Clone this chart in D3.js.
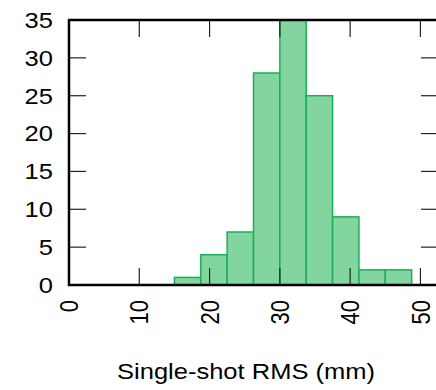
<!DOCTYPE html>
<html>
<head>
<meta charset="utf-8">
<script src="https://cdn.jsdelivr.net/npm/d3@7"></script>
<style>
  html, body { margin: 0; padding: 0; background: #fff; }
  svg { display: block; font-family: "Liberation Sans", Arial, sans-serif; }
</style>
</head>
<body>
<div id="chart"></div>
<script>
// histogram bins (lower edges, mm) and counts
const binEdges = [15, 18.75, 22.5, 26.25, 30, 33.75, 37.5, 41.25, 45];
const binWidth = 3.75;
const counts = [1, 4, 7, 28, 35, 25, 9, 2, 2];
const xTicks = [0, 10, 20, 30, 40, 50];
const yTicks = [0, 5, 10, 15, 20, 25, 30, 35];
const xLabel = 'Single-shot RMS (mm)';

const width = 436;
const height = 390;
const plot = { left: 69, top: 20, right: 438, bottom: 285 };
const fontSize = 22;
const stretch = 1.16; // text in the reference is a bit wider than plain Arial

const svg = d3.select('#chart').append('svg')
  .attr('width', width)
  .attr('height', height);

const x = d3.scaleLinear().domain([0, 52.5]).range([plot.left, plot.right]);
const y = d3.scaleLinear().domain([0, 35]).range([plot.bottom, plot.top]);

const bins = binEdges.map((edge, i) => ({ x0: edge, x1: edge + binWidth, count: counts[i] }));

// bars
svg.append('g')
  .selectAll('rect')
  .data(bins)
  .join('rect')
  .attr('x', (d) => x(d.x0))
  .attr('y', (d) => y(d.count))
  .attr('width', (d) => x(d.x1) - x(d.x0))
  .attr('height', (d) => y(0) - y(d.count))
  .attr('fill', '#83d5a0')
  .attr('stroke', '#1aaf55')
  .attr('stroke-width', 1.5);

const tickLen = 17;
const ticks = svg.append('g').attr('stroke', '#222').attr('stroke-width', 1.2);

// x ticks, bottom and mirrored at top
ticks.selectAll('line.xb')
  .data(xTicks.slice(1))
  .join('line')
  .attr('class', 'xb')
  .attr('x1', (d) => x(d)).attr('x2', (d) => x(d))
  .attr('y1', plot.bottom).attr('y2', plot.bottom - tickLen);

ticks.selectAll('line.xt')
  .data(xTicks.slice(1))
  .join('line')
  .attr('class', 'xt')
  .attr('x1', (d) => x(d)).attr('x2', (d) => x(d))
  .attr('y1', plot.top).attr('y2', plot.top + tickLen);

// y ticks, left and mirrored on the right
ticks.selectAll('line.yl')
  .data(yTicks.slice(1, -1))
  .join('line')
  .attr('class', 'yl')
  .attr('x1', plot.left).attr('x2', plot.left + tickLen)
  .attr('y1', (d) => y(d)).attr('y2', (d) => y(d));

ticks.selectAll('line.yr')
  .data(yTicks.slice(1, -1))
  .join('line')
  .attr('class', 'yr')
  .attr('x1', plot.right).attr('x2', plot.right - tickLen)
  .attr('y1', (d) => y(d)).attr('y2', (d) => y(d));

// frame
svg.append('rect')
  .attr('x', plot.left)
  .attr('y', plot.top)
  .attr('width', plot.right - plot.left)
  .attr('height', plot.bottom - plot.top)
  .attr('fill', 'none')
  .attr('stroke', '#000')
  .attr('stroke-width', 2.5);

// y tick labels
svg.append('g')
  .selectAll('text')
  .data(yTicks)
  .join('text')
  .attr('transform', (d) => `translate(${plot.left - 16},${y(d)}) scale(${stretch},1)`)
  .attr('dy', '0.36em')
  .attr('text-anchor', 'end')
  .attr('font-size', fontSize)
  .text((d) => d);

// x tick labels, rotated
svg.append('g')
  .selectAll('text')
  .data(xTicks)
  .join('text')
  .attr('transform', (d) => `translate(${x(d)},${plot.bottom + 15}) scale(${stretch},1) rotate(-90)`)
  .attr('dy', '0.36em')
  .attr('text-anchor', 'end')
  .attr('font-size', fontSize)
  .text((d) => d);

svg.append('text')
  .attr('transform', `translate(246,379) scale(${stretch},1)`)
  .attr('text-anchor', 'middle')
  .attr('font-size', fontSize)
  .text(xLabel);
</script>
</body>
</html>
